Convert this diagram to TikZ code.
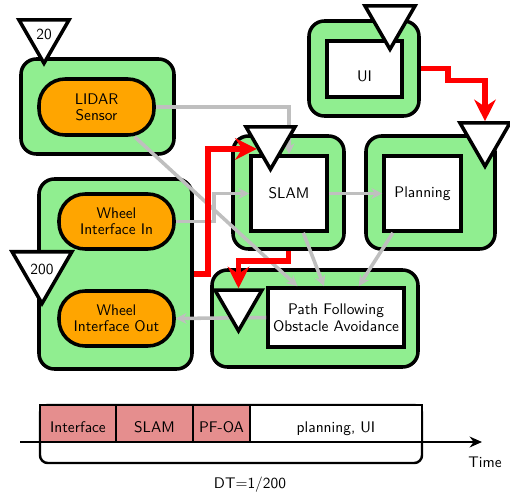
\documentclass[tikz,border=0pt]{standalone}
\usetikzlibrary{arrows.meta,shapes.geometric}

\begin{document}
\begin{tikzpicture}[x=0.65pt,y=-0.65pt,font=\sffamily]
\pgfmathsetlengthmacro\px{0.65pt};
\definecolor{grpgreen}{RGB}{144,238,144}
\definecolor{partorange}{RGB}{255,165,0}
\definecolor{slotred}{RGB}{229,142,142}
\definecolor{linkgray}{RGB}{191,191,191}
\tikzset{
  grp/.style={draw=black, fill=grpgreen, line width=2.3pt, rounded corners=10pt, inner sep=0},
  part/.style={draw=black, fill=partorange, line width=2.3pt, rounded corners=17pt, align=center, font=\sffamily\fontsize{10}{10.5}\selectfont},
  box/.style={draw=black, fill=white, line width=2.3pt, align=center, font=\sffamily\fontsize{10}{11}\selectfont},
  rate/.style={regular polygon, regular polygon sides=3, shape border rotate=180, draw=black, fill=white, line width=2.3pt, inner sep=0},
  link/.style={draw=linkgray, line width=2.3pt, -{Stealth[length=7pt,width=7pt]}},
  trig/.style={draw=red, line width=3.8pt, -{Stealth[length=14pt,width=14pt]}},
  slot/.style={draw=black, line width=1.6pt, minimum height=37*\px, text height=2.8ex, text depth=0pt, inner sep=0}
}
\useasboundingbox (0,0) rectangle (510,494);

\node[grp, minimum width=153*\px, minimum height=95*\px] (lidargrp) at (97.5,106.5) {};
\node[grp, minimum width=153*\px, minimum height=190*\px] (wheelgrp) at (115.5,274) {};
\node[grp, minimum width=111*\px, minimum height=113*\px] (slamgrp) at (288.5,192.5) {};
\node[grp, minimum width=129*\px, minimum height=113*\px] (plangrp) at (430.5,192.5) {};
\node[grp, minimum width=110*\px, minimum height=95*\px] (uigrp) at (364,68.5) {};
\node[grp, minimum width=206*\px, minimum height=97*\px] (pfgrp) at (315,318.5) {};

\node[part, minimum width=115*\px, minimum height=56*\px] (lidar) at (96.5,107) {LIDAR\\Sensor};
\node[part, minimum width=115*\px, minimum height=55*\px] (wheelin) at (116.5,221.5) {Wheel\\Interface In};
\node[part, minimum width=115*\px, minimum height=55*\px] (wheelout) at (116.5,318.5) {Wheel\\Interface Out};
\node[box, minimum width=76*\px, minimum height=75*\px] (slam) at (289,193.5) {SLAM};
\node[box, minimum width=77*\px, minimum height=75*\px] (plan) at (422.5,193.5) {Planning};
\node[box, minimum width=75*\px, minimum height=56*\px, text height=17pt] (ui) at (364.5,69) {UI};
\node[box, minimum width=136*\px, minimum height=59*\px] (pf) at (336,317.5) {Path Following\\Obstacle Avoidance};

\draw[link] (lidar.east) -| (slam.north);
\draw[link] (lidar.-38) -- (pf.141);
\draw[link] (wheelin.east) -- ++(38,0) |- (slam.west);
\draw[link] (slam.east) -- (plan.west);
\draw[link] (slam.-70) -- (pf.111);
\draw[link] (plan.-127) -- (pf.54);
\draw[link] (pf.west) -- (wheelout.east);

\node[rate, minimum size=57.7*\px] (tri20) at (44,34.4) {20};
\node[rate, minimum size=69*\px] (tri200) at (42,269) {200};
\node[rate, minimum size=56.6*\px] (slamtri) at (270.5,141) {};
\node[rate, minimum size=57.7*\px] (uitri) at (390,20.4) {};
\node[rate, minimum size=57.7*\px] (plantri) at (485,137.4) {};
\node[rate, minimum size=54.3*\px] (pftri) at (238.5,303.6) {};

\draw[trig] (wheelgrp.east) -- ++(14,0) |- (slamtri.210);
\draw[trig] (slamgrp.south) -- ++(0,10) -| (pftri.north);
\draw[trig] (uigrp.east) -- ++(27,0) -- ++(0,12) -| (plantri.north);

\draw[line width=1.6pt, rounded corners=5pt] (40,405) rectangle (422,463);
\node[slot, fill=slotred, minimum width=76*\px] (slotif) at (78,423.5) {Interface};
\node[slot, fill=slotred, minimum width=77*\px] (slotslam) at (154.5,423.5) {SLAM};
\node[slot, fill=slotred, minimum width=57*\px] (slotpf) at (221.5,423.5) {PF-OA};
\node[slot, fill=white, minimum width=172*\px] (slotrest) at (336,423.5) {planning, UI};
\coordinate (t0) at (20,442);
\coordinate (t1) at (482,442);
\draw[line width=1.5pt, -{Stealth[length=8pt,width=7pt]}] (t0) -- (t1);
\node (time) at (485,462) {Time};
\node (dt) at (250,485) {DT=1/200};
\end{tikzpicture}
\end{document}
